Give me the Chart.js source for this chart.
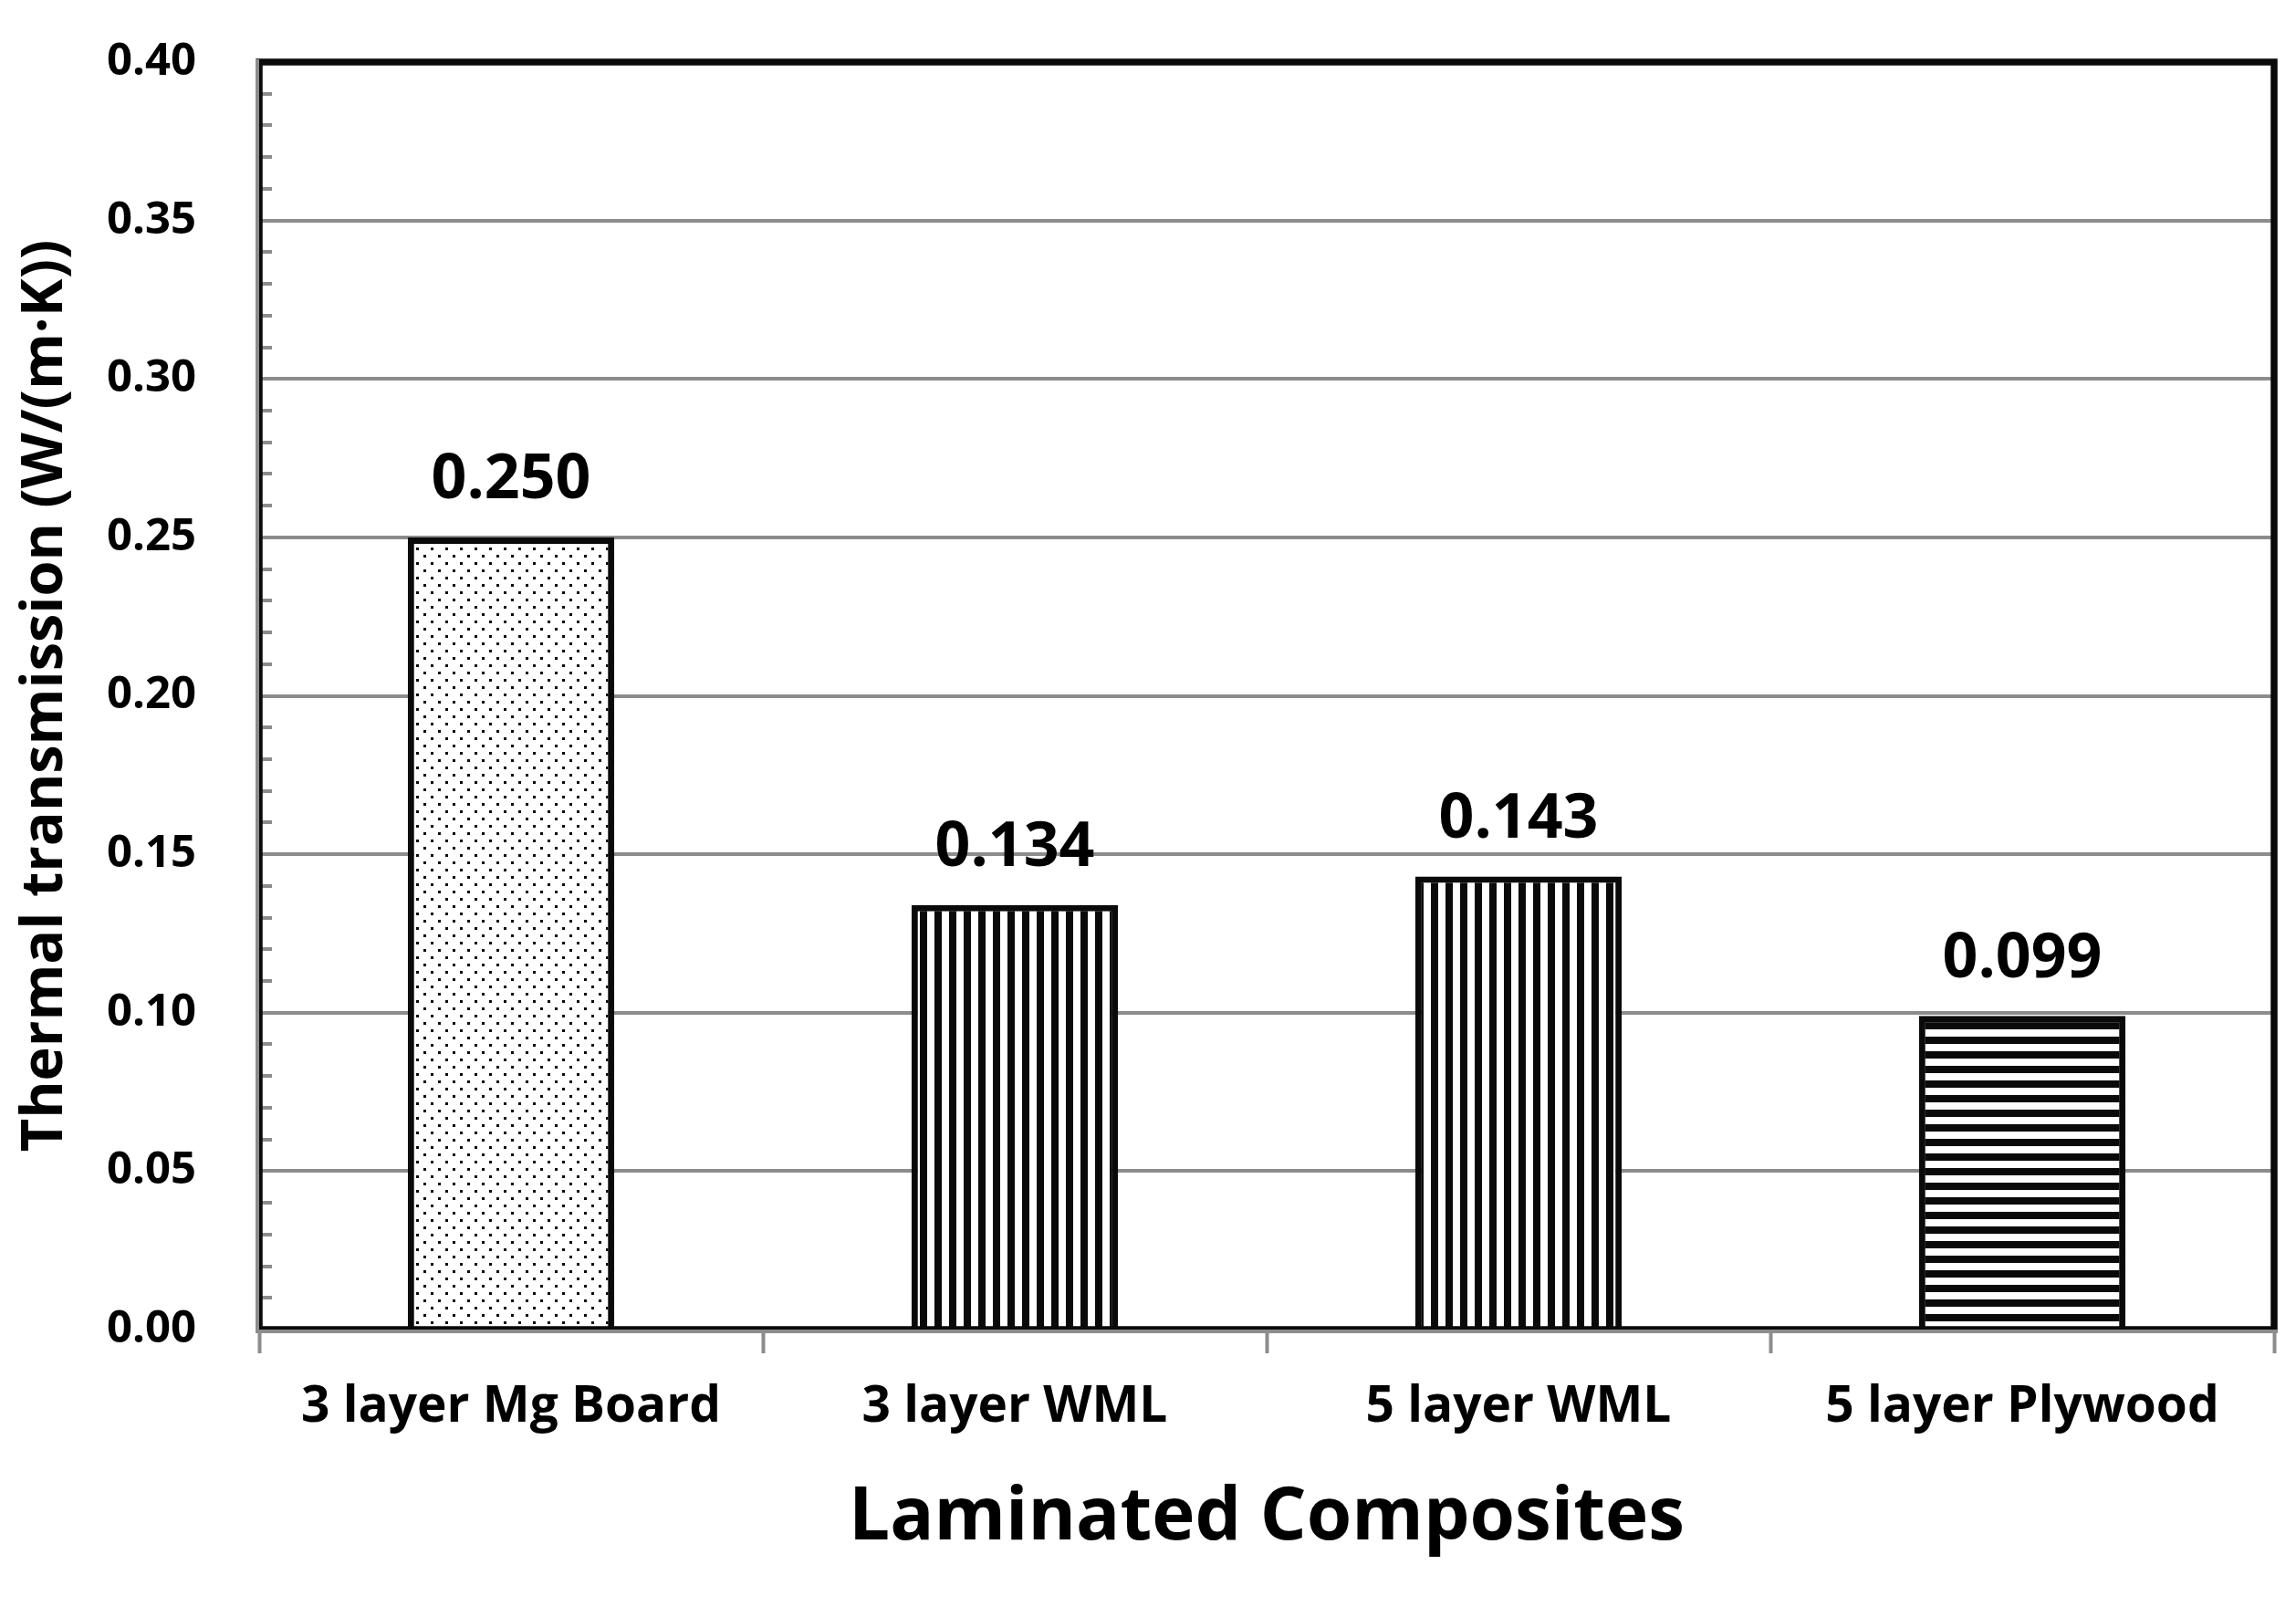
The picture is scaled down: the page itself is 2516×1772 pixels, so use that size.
<!DOCTYPE html>
<html><head><meta charset="utf-8">
<script src="https://cdn.jsdelivr.net/npm/chart.js@4.4.1/dist/chart.umd.min.js"></script>
<style>html,body{margin:0;padding:0;background:#fff;} canvas{display:block;}</style>
</head><body>
<canvas id="c" width="2516" height="1772"></canvas>
<script>
const categories = ['3 layer Mg Board', '3 layer WML', '5 layer WML', '5 layer Plywood'];
const values = [0.250, 0.134, 0.143, 0.099];
const valueLabels = ['0.250', '0.134', '0.143', '0.099'];
const fillKinds = ['dots', 'vertical', 'vertical', 'horizontal'];
const yTicks = [0, 0.05, 0.10, 0.15, 0.20, 0.25, 0.30, 0.35, 0.40];
const yMinorPerMajor = 5;
const xTitle = 'Laminated Composites';
const yTitle = 'Thermal transmission (W/(m·K))';

const FONT = 'Open Sans';
const canvas = document.getElementById('c');
const mainCtx = canvas.getContext('2d');

function makePattern(kind) {
  const c = document.createElement('canvas');
  c.width = 16; c.height = 16;
  const g = c.getContext('2d');
  g.fillStyle = '#ffffff'; g.fillRect(0, 0, 16, 16);
  g.fillStyle = '#0a0a0a';
  if (kind === 'dots') { g.fillRect(0, 0, 3, 3); g.fillRect(8, 8, 3, 3); }
  else if (kind === 'vertical') { g.fillRect(0, 0, 8, 16); }
  else if (kind === 'horizontal') { g.fillRect(0, 0, 16, 8); }
  return mainCtx.createPattern(c, 'repeat');
}
const patterns = fillKinds.map(makePattern);

const framePlugin = {
  id: 'frame',
  afterDatasetsDraw(chart) {
    const { ctx, chartArea: a, scales } = chart;
    const y = scales.y;
    ctx.save();
    // minor ticks on y axis (inside)
    ctx.strokeStyle = '#8c8c8c';
    ctx.lineWidth = 4;
    for (let k = 0; k < yTicks.length - 1; k++) {
      const step = (yTicks[k + 1] - yTicks[k]) / yMinorPerMajor;
      for (let m = 1; m < yMinorPerMajor; m++) {
        const py = Math.round(y.getPixelForValue(yTicks[k] + step * m));
        ctx.beginPath();
        ctx.moveTo(a.left - 4, py);
        ctx.lineTo(a.left + 14, py);
        ctx.stroke();
      }
    }
    // black plot border
    ctx.strokeStyle = '#0a0a0a';
    ctx.lineWidth = 7.5;
    ctx.strokeRect(a.left, a.top, a.right - a.left, a.bottom - a.top);
    // gray axis lines
    ctx.strokeStyle = '#8c8c8c';
    ctx.lineWidth = 4;
    ctx.beginPath();
    ctx.moveTo(a.left - 2, a.top - 3);
    ctx.lineTo(a.left - 2, a.bottom + 4);
    ctx.moveTo(a.left - 4, a.bottom + 2);
    ctx.lineTo(a.right + 4, a.bottom + 2);
    ctx.stroke();
    // value labels
    const meta = chart.getDatasetMeta(0);
    ctx.fillStyle = '#000';
    ctx.font = 'bold 68px "' + FONT + '"';
    ctx.textAlign = 'center';
    ctx.textBaseline = 'middle';
    meta.data.forEach((bar, i) => {
      ctx.fillText(valueLabels[i], bar.x, bar.y - 62);
    });
    ctx.restore();
  }
};

new Chart(canvas, {
  type: 'bar',
  data: {
    labels: categories,
    datasets: [{
      data: values,
      backgroundColor: patterns,
      borderColor: '#0a0a0a',
      borderWidth: 7,
      borderSkipped: 'start',
      barPercentage: 0.41,
      categoryPercentage: 1
    }]
  },
  options: {
    responsive: false,
    animation: false,
    devicePixelRatio: 1,
    layout: { padding: { top: 68, right: 24, left: 0, bottom: 0 } },
    plugins: { legend: { display: false }, tooltip: { enabled: false } },
    scales: {
      x: {
        offset: true,
        grid: { display: true, drawOnChartArea: false, drawTicks: true, tickLength: 26, tickWidth: 4, tickColor: '#8c8c8c', offset: true },
        border: { display: false },
        ticks: { font: { family: FONT, weight: 'bold', size: 55, lineHeight: 1 }, color: '#000', padding: 32, maxRotation: 0, autoSkip: false },
        title: { display: true, text: xTitle, color: '#000', font: { family: FONT, weight: 'bold', size: 80, lineHeight: 1 }, padding: { top: 0, bottom: 68 } },
        afterFit(s) { s.height = 315; s.paddingLeft = 0; s.paddingRight = 0; }
      },
      y: {
        min: 0, max: 0.4,
        afterBuildTicks(s) { s.ticks = yTicks.map(v => ({ value: v })); },
        ticks: { callback: v => Number(v).toFixed(2), font: { family: FONT, weight: 'bold', size: 49, lineHeight: 1 }, color: '#000', padding: 69 },
        grid: { color: '#8c8c8c', lineWidth: 4, drawTicks: false },
        border: { display: false },
        title: { display: true, text: yTitle, color: '#000', font: { family: FONT, weight: 'bold', size: 63, lineHeight: 1 }, padding: { top: 19, bottom: 0 } },
        afterFit(s) { s.width = 284; s.paddingTop = 0; s.paddingBottom = 0; }
      }
    }
  },
  plugins: [framePlugin]
});
</script>
</body></html>
